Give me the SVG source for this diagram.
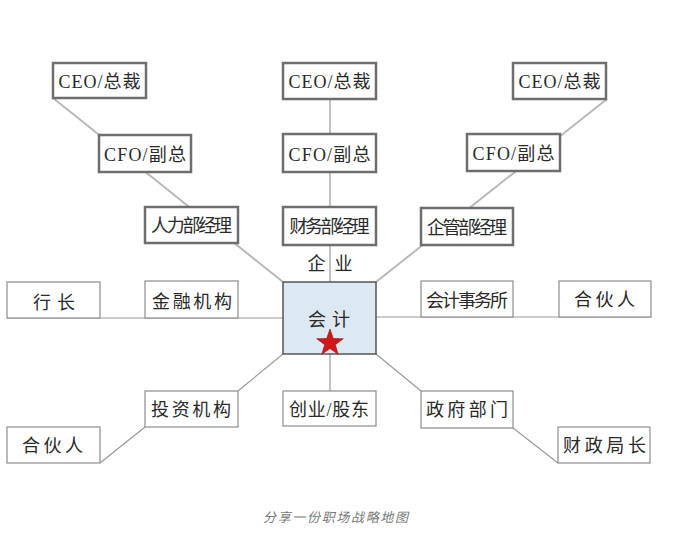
<svg xmlns="http://www.w3.org/2000/svg" width="678" height="539" viewBox="0 0 678 539">
<style>
.thick{fill:#fff;stroke:#6e6e6e;stroke-width:2.5}
.thin{fill:#fff;stroke:#8c8c8c;stroke-width:1.2}
.t{font-family:"Liberation Serif","Noto Sans CJK SC",serif;font-size:18px;fill:#2a2a2a;text-anchor:middle;dominant-baseline:central}
.conn{stroke:#9a9a9a;stroke-width:1.2;fill:none}
.diag{stroke:#b8b8b8;stroke-width:2;fill:none}
</style>
<rect width="678" height="539" fill="#fff"/>
<g id="connectors">
<path class="diag" d="M53,98 L283,282"/>
<path class="diag" d="M607,99 L376,282"/>
<path class="conn" d="M330,99 L330,282"/>
<path class="conn" d="M330,354 L330,391"/>
<path class="conn" d="M7,318 L283,318"/>
<path class="conn" d="M376,317 L651,317"/>
<path class="conn" d="M100,463 L145,427"/>
<path class="conn" d="M238,391 L283,354"/>
<path class="conn" d="M376,354 L421,391"/>
<path class="conn" d="M513,428 L558,463"/>
</g>
<g id="ceo-left"><rect class="thick" x="53" y="63" width="93" height="35"/><text class="t" x="99.5" y="82" textLength="82" lengthAdjust="spacing">CEO/总裁</text></g>
<g id="ceo-mid"><rect class="thick" x="283" y="63" width="93" height="36"/><text class="t" x="329.5" y="82" textLength="82" lengthAdjust="spacing">CEO/总裁</text></g>
<g id="ceo-right"><rect class="thick" x="513" y="63" width="93" height="36"/><text class="t" x="559.5" y="82" textLength="82" lengthAdjust="spacing">CEO/总裁</text></g>
<g id="cfo-left"><rect class="thick" x="99" y="135" width="92" height="37"/><text class="t" x="145" y="155" textLength="82" lengthAdjust="spacing">CFO/副总</text></g>
<g id="cfo-mid"><rect class="thick" x="283" y="134" width="93" height="38"/><text class="t" x="329.5" y="155" textLength="82" lengthAdjust="spacing">CFO/副总</text></g>
<g id="cfo-right"><rect class="thick" x="467" y="134" width="93" height="37"/><text class="t" x="513.5" y="154" textLength="82" lengthAdjust="spacing">CFO/副总</text></g>
<g id="hr-manager"><rect class="thick" x="145" y="207" width="93" height="36"/><text class="t" x="191.5" y="226" font-size="15" textLength="81" lengthAdjust="spacing">人力部经理</text></g>
<g id="finance-manager"><rect class="thick" x="283" y="207" width="93" height="38"/><text class="t" x="329.5" y="227" font-size="15" textLength="80" lengthAdjust="spacing">财务部经理</text></g>
<g id="mgmt-manager"><rect class="thick" x="421" y="208" width="92" height="37"/><text class="t" x="467" y="228" font-size="15" textLength="80" lengthAdjust="spacing">企管部经理</text></g>
<g id="enterprise-label"><text class="t" x="330" y="264" font-size="18" textLength="45" lengthAdjust="spacing">企 业</text></g>
<g id="accountant"><rect x="283" y="282" width="93" height="72" fill="#dce9f2" stroke="#555" stroke-width="1.5"/><text class="t" x="329" y="320" font-size="21" textLength="42" lengthAdjust="spacing">会计</text>
<polygon points="330,329 333.3,338.5 343.3,338.7 335.3,344.7 338.2,354.3 330,348.6 321.8,354.3 324.7,344.7 316.7,338.7 326.7,338.5" fill="#d01818" stroke="#9a0e0e" stroke-width="0.6"/></g>
<g id="bank-head"><rect class="thin" x="7" y="282" width="93" height="36"/><text class="t" x="54" y="303" font-size="20" textLength="42" lengthAdjust="spacing">行长</text></g>
<g id="financial-inst"><rect class="thin" x="145" y="281" width="93" height="37"/><text class="t" x="192" y="302" font-size="19" textLength="80" lengthAdjust="spacing">金融机构</text></g>
<g id="cpa-firm"><rect class="thin" x="421" y="281" width="92" height="36"/><text class="t" x="467" y="301" font-size="15" textLength="82" lengthAdjust="spacing">会计事务所</text></g>
<g id="partner-right"><rect class="thin" x="559" y="281" width="92" height="36"/><text class="t" x="604.5" y="300" font-size="20" textLength="61" lengthAdjust="spacing">合伙人</text></g>
<g id="investment-inst"><rect class="thin" x="145" y="391" width="93" height="36"/><text class="t" x="191" y="410" font-size="19" textLength="80" lengthAdjust="spacing">投资机构</text></g>
<g id="partner-left"><rect class="thin" x="7" y="427" width="93" height="36"/><text class="t" x="52.5" y="446" font-size="20" textLength="61" lengthAdjust="spacing">合伙人</text></g>
<g id="founder"><rect class="thin" x="283" y="391" width="93" height="35"/><text class="t" x="329" y="410" font-size="18" textLength="80" lengthAdjust="spacing">创业/股东</text></g>
<g id="government"><rect class="thin" x="421" y="391" width="92" height="37"/><text class="t" x="467" y="410" font-size="19" textLength="82" lengthAdjust="spacing">政府部门</text></g>
<g id="finance-bureau"><rect class="thin" x="558" y="427" width="92" height="36"/><text class="t" x="604.5" y="446" font-size="19" textLength="83" lengthAdjust="spacing">财政局长</text></g>
<g id="caption"><text x="335.5" y="516" font-family="'Noto Sans CJK SC',sans-serif" font-size="13" font-style="italic" fill="#777" text-anchor="middle" dominant-baseline="central" textLength="145" lengthAdjust="spacing">分享一份职场战略地图</text></g>
</svg>
